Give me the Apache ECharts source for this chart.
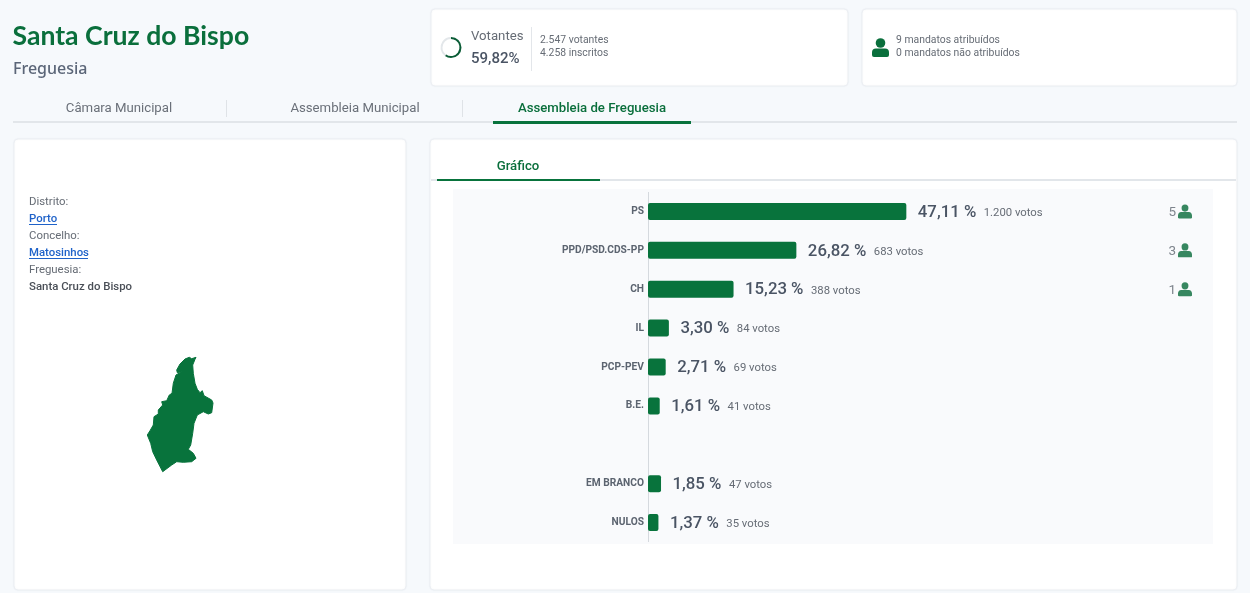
<!DOCTYPE html>
<html>
  <head>
    <meta charset="utf-8" />
    <title>Santa Cruz do Bispo</title>
    <script src="https://cdn.jsdelivr.net/npm/echarts@6/dist/echarts.min.js"></script>
    <style>
      html, body { margin: 0; padding: 0; background: #f6f9fc; }
    </style>
  </head>
  <body>
    <div id="main" style="width: 1250px; height: 593px"></div>

    <script>
      // dados
      var listas = ["PS", "PPD/PSD.CDS-PP", "CH", "IL", "PCP-PEV", "B.E.", "", "EM BRANCO", "NULOS"];
      var percentagens = [47.11, 26.82, 15.23, 3.3, 2.71, 1.61, null, 1.85, 1.37];
      var votos = [1200, 683, 388, 84, 69, 41, null, 47, 35];
      var mandatos = [5, 3, 1, 0, 0, 0, 0, 0, 0];
      var votantesPct = 59.82;

      // contorno da freguesia (tracado a mao, y para baixo)
      var contorno = [
        [196, 357.3], [191.7, 358.7], [189.3, 357.3], [185, 359], [180, 364], [176.7, 370], [177.3, 372.7],
        [181.7, 371.7], [176, 375], [173.3, 383.3], [172, 393.3], [169.3, 395], [166.7, 400.7], [161.7, 401.7],
        [162.7, 405], [158.3, 410], [158.3, 414], [154, 416.7], [153.3, 425], [150, 430.7], [147.3, 435],
        [150.7, 443.3], [152.7, 451.7], [156.7, 460], [162.7, 471.7], [171.7, 465], [176.7, 461.7], [183.3, 462.3],
        [191.7, 461.7], [196, 458.3], [193.3, 453.3], [188.3, 449.3], [190.7, 445], [192.7, 433.3], [194, 423.3],
        [197.3, 415], [203.3, 411.7], [208.3, 414], [211.7, 412.7], [213, 403], [211.7, 400], [204, 395.7],
        [202.3, 390.7], [200, 392.7], [197.3, 389.3], [195, 383.3], [193.3, 373.3], [192.7, 365], [195, 359.3],
        [196, 357.3],
      ];

      var VERDE = "#08733c";
      var PESSOA =
        "path://M12 1a5.4 5.4 0 1 1 0 10.8a5.4 5.4 0 1 1 0-10.8z" +
        "M6 12.5h12c3 0 5 2.4 5 5.2v3c0 1-.8 1.3-1.5 1.3h-19c-.7 0-1.5-.3-1.5-1.3v-3c0-2.8 2-5.2 5-5.2z";

      echarts.registerMap("freguesia", {
        type: "FeatureCollection",
        features: [
          {
            type: "Feature",
            properties: { name: "Santa Cruz do Bispo" },
            geometry: {
              type: "Polygon",
              coordinates: [contorno.map((p) => [p[0], -p[1]])],
            },
          },
        ],
      });

      function fmtPct(v) {
        return v.toFixed(2).replace(".", ",");
      }
      function fmtVotos(v) {
        return String(v).replace(/\B(?=(\d{3})+$)/g, ".");
      }

      function cartao(x, y, w, h) {
        return {
          type: "rect",
          shape: { x: x, y: y, width: w, height: h, r: 4 },
          style: {
            fill: "#fff",
            stroke: "#eceff3",
            lineWidth: 1,
            shadowBlur: 2,
            shadowColor: "rgba(60,80,100,0.05)",
          },
        };
      }
      function retangulo(x, y, w, h, cor) {
        return { type: "rect", shape: { x: x, y: y, width: w, height: h }, style: { fill: cor } };
      }
      function texto(t, x, y, font, cor, align) {
        return {
          type: "text",
          x: x,
          y: y,
          style: {
            text: t,
            font: font,
            fill: cor,
            textAlign: align || "left",
            textVerticalAlign: "middle",
          },
        };
      }

      var F = "Roboto, sans-serif";
      var graficos = [
        texto("Santa Cruz do Bispo", 12.5, 36, "700 26.6px Lato, sans-serif", "#0a6f3c"),
        texto("Freguesia", 13, 69, "500 16px 'Noto Sans', sans-serif", "#5b6678"),

        // cartoes de cima
        cartao(431, 9, 417, 77),
        texto("Votantes", 471, 37, "13.2px " + F, "#666c75"),
        texto("59,82%", 471, 59, "500 15px " + F, "#4a5464"),
        retangulo(531, 27, 1, 44, "#e3e6ea"),
        texto("2.547 votantes", 540, 40, "10.4px " + F, "#666c75"),
        texto("4.258 inscritos", 540, 53, "10.4px " + F, "#666c75"),
        cartao(862, 9, 375, 77),
        texto("9 mandatos atribuídos", 896, 40, "10.4px " + F, "#666c75"),
        texto("0 mandatos não atribuídos", 896, 53, "10.4px " + F, "#666c75"),
        // icone de mandatos
        { type: "circle", shape: { cx: 880.5, cy: 43, r: 4.8 }, style: { fill: "#0a6f3c" } },
        {
          type: "rect",
          shape: { x: 872, y: 48.5, width: 17, height: 8.5, r: [4, 4, 2, 2] },
          style: { fill: "#0a6f3c" },
        },

        // separadores
        texto("Câmara Municipal", 119, 109, "13.2px " + F, "#6a7079", "center"),
        retangulo(226, 100, 1, 17, "#dfe3e7"),
        texto("Assembleia Municipal", 355, 109, "13.2px " + F, "#6a7079", "center"),
        retangulo(462, 100, 1, 17, "#dfe3e7"),
        texto("Assembleia de Freguesia", 592, 109, "500 13.2px " + F, "#0a6f3c", "center"),
        retangulo(13, 121, 1224, 2, "#e2e6ea"),
        retangulo(493, 121, 198, 3, VERDE),

        // cartao da esquerda
        cartao(14, 139, 392, 451),
        texto("Distrito:", 29, 202, "11.4px " + F, "#666c75"),
        texto("Porto", 29, 219, "500 11.4px " + F, "#1f62c9"),
        retangulo(29, 224, 28, 1, "#1f62c9"),
        texto("Concelho:", 29, 236, "11.4px " + F, "#666c75"),
        texto("Matosinhos", 29, 253, "500 11.4px " + F, "#1f62c9"),
        retangulo(29, 258, 59, 1, "#1f62c9"),
        texto("Freguesia:", 29, 270, "11.4px " + F, "#666c75"),
        texto("Santa Cruz do Bispo", 29, 287, "500 11.4px " + F, "#4a4f57"),

        // cartao do grafico
        cartao(430, 139, 807, 451),
        texto("Gráfico", 518, 167, "500 13.2px " + F, "#0a6f3c", "center"),
        retangulo(431, 179, 805, 2, "#e2e6ea"),
        retangulo(437, 179, 163, 2, VERDE),
        retangulo(453, 189, 760, 355, "#f9fafc"),
        // linha do eixo, com o mesmo recuo do arranque das barras
        retangulo(648, 192, 1, 350, "#d5d9de"),
      ];

      // barra com um pequeno arranque antes do zero, como no original
      var ARRANQUE = 3;
      function desenhaBarra(params, api) {
        var v = api.value(0);
        var i = api.value(1);
        var zero = api.coord([0, i]);
        var fim = api.coord([v, i]);
        return {
          type: "group",
          children: [
            {
              type: "rect",
              shape: { x: zero[0] - ARRANQUE, y: zero[1] - 8.5, width: fim[0] - zero[0] + ARRANQUE, height: 17, r: 2 },
              style: { fill: VERDE },
            },
            {
              type: "text",
              x: fim[0] + 11.5,
              y: zero[1] + 1,
              style: {
                text: "{p|" + fmtPct(v) + " %}{v|" + fmtVotos(api.value(2)) + " votos}",
                verticalAlign: "middle",
                rich: {
                  p: { fontSize: 16.8, fontWeight: 500, fill: "#4a5464", fontFamily: "Roboto" },
                  v: { fontSize: 11.3, fill: "#666c75", fontFamily: "Roboto", padding: [1, 0, 0, 7.5] },
                },
              },
            },
          ],
        };
      }

      var myChart = echarts.init(document.getElementById("main"));

      var option = {
        backgroundColor: "#f6f9fc",
        animation: false,
        textStyle: { fontFamily: "Roboto" },
        graphic: { elements: graficos },
        grid: { left: 651, top: 192, width: 542, height: 350 },
        xAxis: { type: "value", min: 0, max: 100, show: false },
        yAxis: {
          type: "category",
          data: listas,
          inverse: true,
          offset: ARRANQUE,
          axisTick: { show: false },
          axisLine: { show: false },
          axisLabel: {
            margin: 4,
            interval: 0,
            fontSize: 10.2,
            fontWeight: 700,
            color: "#5c6470",
            padding: [7, 0, 0, 0],
          },
        },
        series: [
          {
            type: "pie",
            silent: true,
            center: [451, 47.5],
            radius: [8.5, 10.5],
            startAngle: 90,
            label: { show: false },
            labelLine: { show: false },
            data: [
              { value: votantesPct, itemStyle: { color: "#0a5c36" } },
              { value: 100 - votantesPct, itemStyle: { color: "#e3e7ea" } },
            ],
          },
          {
            type: "custom",
            silent: true,
            clip: false,
            renderItem: desenhaBarra,
            encode: { x: 0, y: 1 },
            data: percentagens
              .map((v, i) => [v, i, votos[i]])
              .filter((d) => d[0] != null),
          },
          {
            type: "scatter",
            clip: false,
            silent: true,
            symbol: PESSOA,
            symbolSize: 14,
            symbolOffset: [-8, 0],
            itemStyle: { color: "#066a38" },
            label: {
              show: true,
              position: "left",
              distance: 2,
              offset: [0, 1],
              fontSize: 13.5,
              color: "#5f6670",
              formatter: function (p) {
                return p.value[2];
              },
            },
            data: mandatos
              .map((m, i) => [100, i, m])
              .filter((d) => d[2] > 0),
          },
          {
            type: "map",
            map: "freguesia",
            silent: true,
            aspectScale: 1,
            left: 147.3,
            top: 357.3,
            width: 65.7,
            height: 114.4,
            label: { show: false },
            itemStyle: { areaColor: VERDE, borderColor: VERDE, borderWidth: 1 },
            data: [],
          },
        ],
      };

      myChart.setOption(option);
    </script>
  </body>
</html>
